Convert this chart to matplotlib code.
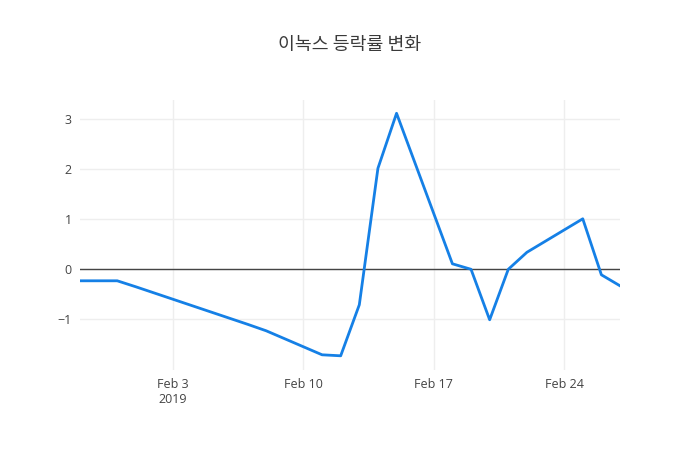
import matplotlib
matplotlib.use("Agg")
import matplotlib.pyplot as plt
import matplotlib.dates as mdates
import numpy as np
import pandas as pd

dates = ["2019-01-29", "2019-01-30", "2019-01-31", "2019-02-01", "2019-02-07",
         "2019-02-08", "2019-02-11", "2019-02-12", "2019-02-13", "2019-02-14",
         "2019-02-15", "2019-02-18", "2019-02-19", "2019-02-20", "2019-02-21",
         "2019-02-22", "2019-02-25", "2019-02-26", "2019-02-27"]
values = [-0.23, -0.23, -0.23, -0.35, -1.10,
          -1.23, -1.71, -1.73, -0.71, 2.02,
          3.12, 0.11, 0.0, -1.01, 0.0,
          0.34, 1.01, -0.11, -0.33]
title = "이녹스 등락률 변화"
xtick_dates = ["2019-02-03", "2019-02-10", "2019-02-17", "2019-02-24"]
xtick_labels = ["Feb 3\n2019", "Feb 10", "Feb 17", "Feb 24"]
yticks = [-1, 0, 1, 2, 3]
ytick_labels = ["−1", "0", "1", "2", "3"]

x = pd.to_datetime(dates)

fig = plt.figure(figsize=(7, 4.5), dpi=100)
ax = fig.add_axes([80/700, 80/450, 540/700, 270/450])

ax.plot(x, values, color="#1580e6", lw=2, solid_joinstyle="round", zorder=3)
ax.axhline(0, color="#444444", lw=1, zorder=2)

ax.set_xlim(x[0], x[-1])
ax.set_ylim(-2.014, 3.386)

xt = pd.to_datetime(xtick_dates)
ax.set_xticks(xt)
ax.set_xticklabels(xtick_labels, family=["Open Sans", "DejaVu Sans"], fontsize=9, color="#444444", linespacing=1.2)
ax.set_yticks(yticks)
ax.set_yticklabels(ytick_labels, family=["Open Sans", "DejaVu Sans"], fontsize=9, color="#444444")
ax.tick_params(length=0, pad=6)
ax.grid(True, color="#eeeeee", lw=1, zorder=0)
for s in ax.spines.values():
    s.set_visible(False)

fig.text(0.5, 1 - 45/450, title, ha="center", va="center",
         family=["Noto Sans CJK KR", "DejaVu Sans"], fontsize=13.2, weight="medium", color="#3a3a3a")

fig.savefig("out.png", dpi=100)
